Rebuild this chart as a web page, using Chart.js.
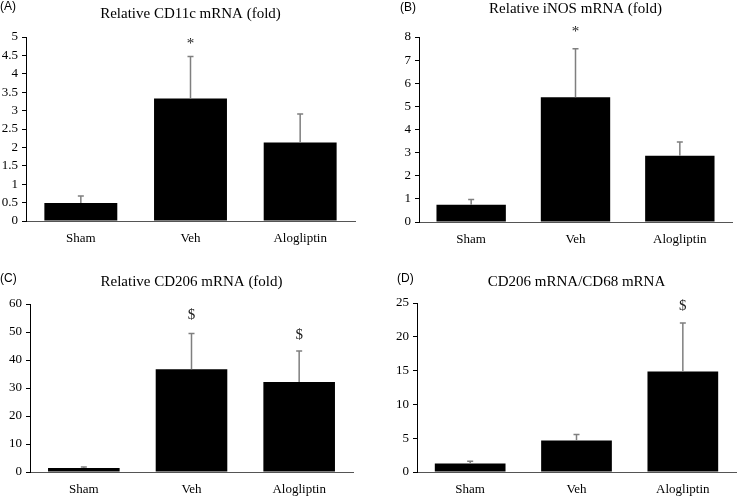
<!DOCTYPE html>
<html>
<head>
<meta charset="utf-8">
<script src="https://cdn.jsdelivr.net/npm/chart.js@4.4.1/dist/chart.umd.min.js"></script>
<style>
  html, body { margin: 0; padding: 0; background: #fff; }
  #wrap { position: relative; width: 738px; height: 496px; }
  canvas { position: absolute; display: block; }
</style>
</head>
<body>
<div id="wrap">
  <canvas id="chartA" width="369" height="248" style="left:0;top:0"></canvas>
  <canvas id="chartB" width="369" height="248" style="left:369px;top:0"></canvas>
  <canvas id="chartC" width="369" height="248" style="left:0;top:248px"></canvas>
  <canvas id="chartD" width="369" height="248" style="left:369px;top:248px"></canvas>
</div>
<script>
// === Data ===
const groups = ["Sham", "Veh", "Alogliptin"];

const cd11cMean = [0.49, 3.33, 2.13];
const cd11cErr = [0.19, 1.14, 0.78];
const cd11cMarks = ["", "*", ""];
const cd11cMarkAt = [null, 4.88, null];
const cd11cTicks = { max: 5, step: 0.5 };

const inosMean = [0.75, 5.4, 2.86];
const inosErr = [0.22, 2.09, 0.6];
const inosMarks = ["", "*", ""];
const inosMarkAt = [null, 8.33, null];
const inosTicks = { max: 8, step: 1 };

const cd206Mean = [1.4, 36.7, 32.1];
const cd206Err = [0.4, 12.8, 11.1];
const cd206Marks = ["", "$", "$"];
const cd206MarkAt = [null, 56.1, 48.9];
const cd206Ticks = { max: 60, step: 10 };

const ratioMean = [1.24, 4.66, 14.86];
const ratioErr = [0.35, 0.89, 7.19];
const ratioMarks = ["", "", "$"];
const ratioMarkAt = [null, null, 24.5];
const ratioTicks = { max: 25, step: 5 };

const SERIF = "'Liberation Serif', 'Times New Roman', serif";
const SANS = "'Liberation Sans', Arial, sans-serif";
const CANVAS_W = 369, CANVAS_H = 248;

// === Panel layout (plot area inside each 369x248 canvas) ===
const panels = [
  { id: "chartA", letter: "(A)", letterX: 0, letterY: 7, title: "Relative CD11c mRNA (fold)", titleY: 14,
    mean: cd11cMean, err: cd11cErr, marks: cd11cMarks, markAt: cd11cMarkAt, ticks: cd11cTicks,
    area: { left: 26, right: 355, top: 37, bottom: 221 } },
  { id: "chartB", letter: "(B)", letterX: 31, letterY: 8, title: "Relative iNOS mRNA (fold)", titleY: 9,
    mean: inosMean, err: inosErr, marks: inosMarks, markAt: inosMarkAt, ticks: inosTicks,
    area: { left: 50, right: 363, top: 37, bottom: 222 } },
  { id: "chartC", letter: "(C)", letterX: 0, letterY: 31, title: "Relative CD206 mRNA (fold)", titleY: 34,
    mean: cd206Mean, err: cd206Err, marks: cd206Marks, markAt: cd206MarkAt, ticks: cd206Ticks,
    area: { left: 30, right: 353, top: 56, bottom: 224 } },
  { id: "chartD", letter: "(D)", letterX: 28, letterY: 31, title: "CD206 mRNA/CD68 mRNA", titleY: 34,
    mean: ratioMean, err: ratioErr, marks: ratioMarks, markAt: ratioMarkAt, ticks: ratioTicks,
    area: { left: 48, right: 367, top: 55, bottom: 224 } }
];

// error bars, significance marks, titles and panel letters
function makeOverlay(p) {
  return {
    id: "overlay",
    afterDatasetsDraw(chart) {
      const { ctx, chartArea } = chart;
      const y = chart.scales.y;
      const bars = chart.getDatasetMeta(0).data;
      ctx.save();
      ctx.strokeStyle = "#7f7f7f";
      ctx.lineWidth = 1.5;
      bars.forEach((bar, i) => {
        const yTop = y.getPixelForValue(p.mean[i] + p.err[i]);
        const yBase = y.getPixelForValue(p.mean[i]);
        ctx.beginPath();
        ctx.moveTo(bar.x, yBase);
        ctx.lineTo(bar.x, yTop);
        ctx.moveTo(bar.x - 3, yTop);
        ctx.lineTo(bar.x + 3, yTop);
        ctx.stroke();
      });
      ctx.fillStyle = "#222";
      ctx.textAlign = "center";
      ctx.textBaseline = "middle";
      ctx.font = "15px " + SERIF;
      bars.forEach((bar, i) => {
        if (p.marks[i]) {
          const yy = y.getPixelForValue(p.markAt[i]);
          ctx.fillText(p.marks[i], bar.x, p.marks[i] === "*" ? yy + 3 : yy);
        }
      });
      ctx.fillStyle = "#000";
      ctx.font = "15px " + SERIF;
      ctx.fillText(p.title, (chartArea.left + chartArea.right) / 2, p.titleY);
      ctx.textAlign = "left";
      ctx.font = "12px " + SANS;
      ctx.fillText(p.letter, p.letterX, p.letterY);
      ctx.restore();
    }
  };
}

function buildPanel(p) {
  const ctx = document.getElementById(p.id).getContext("2d");
  return new Chart(ctx, {
    type: "bar",
    data: {
      labels: groups,
      datasets: [{
        data: p.mean,
        backgroundColor: "#000",
        borderWidth: 0,
        categoryPercentage: 1,
        barPercentage: 0.665
      }]
    },
    options: {
      responsive: false,
      animation: false,
      layout: { padding: { left: 0, right: CANVAS_W - p.area.right, top: p.area.top, bottom: 0 } },
      plugins: { legend: { display: false }, tooltip: { enabled: false }, title: { display: false } },
      scales: {
        x: {
          grid: { display: false, drawTicks: false },
          border: { display: true, color: "#555", width: 1 },
          ticks: { color: "#000", font: { family: SERIF, size: 13 }, padding: 10 },
          afterFit: (scale) => { scale.height = CANVAS_H - p.area.bottom; }
        },
        y: {
          min: 0,
          max: p.ticks.max,
          grid: { drawOnChartArea: false, drawTicks: true, tickLength: 4, color: "#000" },
          border: { display: true, color: "#000", width: 1 },
          ticks: {
            stepSize: p.ticks.step,
            autoSkip: false,
            color: "#000",
            font: { family: SERIF, size: 13 },
            padding: 4,
            callback: (v) => String(v)
          },
          afterFit: (scale) => { scale.width = p.area.left; }
        }
      }
    },
    plugins: [makeOverlay(p)]
  });
}

panels.forEach(buildPanel);
</script>
</body>
</html>
